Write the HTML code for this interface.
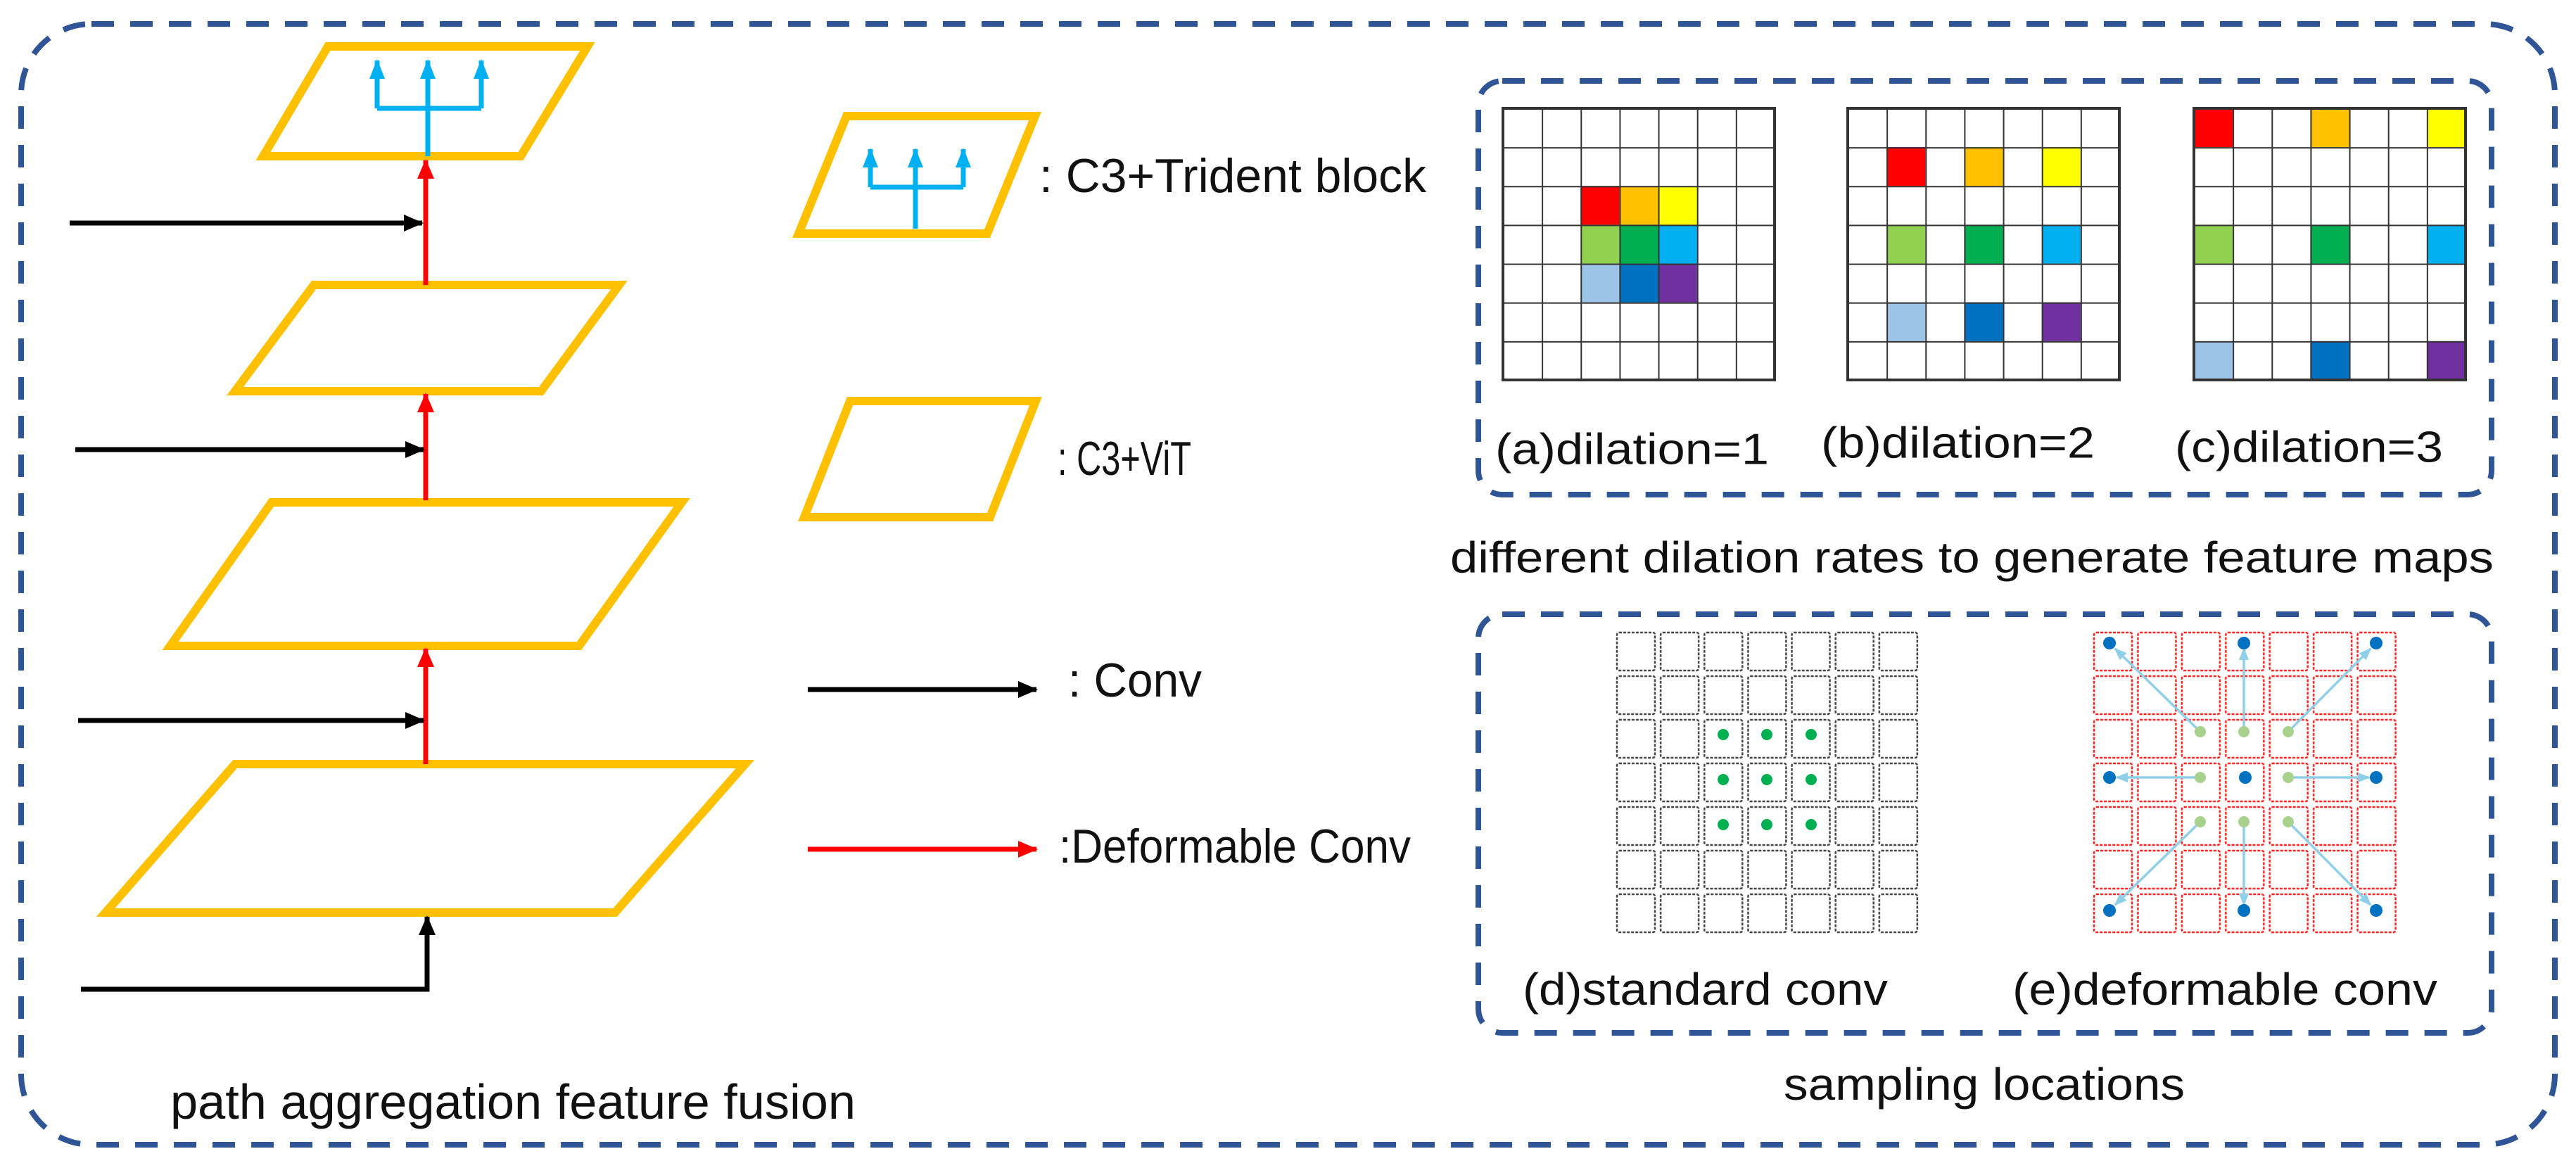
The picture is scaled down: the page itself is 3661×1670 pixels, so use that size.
<!DOCTYPE html>
<html><head><meta charset="utf-8"><style>
html,body{margin:0;padding:0;background:#fff;}
svg{display:block;}
text{font-family:"Liberation Sans",sans-serif;fill:#111;}
</style></head><body>
<svg width="3661" height="1670" viewBox="0 0 3661 1670" xmlns="http://www.w3.org/2000/svg">
<defs>
<marker id="ab" markerUnits="userSpaceOnUse" markerWidth="30" markerHeight="30" refX="26" refY="15" orient="auto"><path d="M0,3 L28,15 L0,27 Z" fill="#000"/></marker>
<marker id="ar" markerUnits="userSpaceOnUse" markerWidth="30" markerHeight="30" refX="26" refY="15" orient="auto"><path d="M0,3 L28,15 L0,27 Z" fill="#f00"/></marker>
<marker id="ac" markerUnits="userSpaceOnUse" markerWidth="30" markerHeight="30" refX="26" refY="15" orient="auto"><path d="M0,4 L28,15 L0,26 Z" fill="#00B0F0"/></marker>
<marker id="al" markerUnits="userSpaceOnUse" markerWidth="20" markerHeight="20" refX="16" refY="10" orient="auto"><path d="M0,3 L18,10 L0,17 Z" fill="#8FCFE8"/></marker>
<pattern id="g1" patternUnits="userSpaceOnUse" x="0" y="0" width="55.14" height="55.14"><path d="M0 0H55.14M0 0V55.14" stroke="#333" stroke-width="4" fill="none"/></pattern>
<pattern id="gd" patternUnits="userSpaceOnUse" x="2294" y="895" width="62.14" height="62" ><rect x="4" y="4" width="54" height="54" rx="3" fill="none" stroke="#444" stroke-width="2.5" stroke-dasharray="4 2"/></pattern>
<pattern id="ge" patternUnits="userSpaceOnUse" x="2972" y="895" width="62.43" height="62" ><rect x="4" y="4" width="54" height="54" rx="3" fill="none" stroke="#f22" stroke-width="2.5" stroke-dasharray="4 2"/></pattern>
</defs>

<rect x="30" y="34" width="3601" height="1593" rx="100" fill="none" stroke="#2F5597" stroke-width="8" stroke-dasharray="32 23"/>

<g fill="none" stroke="#FFC000" stroke-width="12" stroke-linejoin="miter">
<polygon points="466,66 835,66 740,222 374,222"/>
<polygon points="446,405 880,405 769,556 334,556"/>
<polygon points="386,714 969,714 823,918 242,918"/>
<polygon points="334,1086 1059,1086 874,1297 150,1297"/>
<polygon points="1203,165 1471,165 1403,332 1135,332"/>
<polygon points="1208,570 1472,570 1407,735 1143,735"/>
</g>

<g stroke="#00B0F0" stroke-width="7" fill="none">
<path d="M608,222 V154 M536,154 H684 M536,154 V88 M684,154 V88 M608,154 V88" />
<path d="M536,120 V86" marker-end="url(#ac)"/>
<path d="M608,120 V86" marker-end="url(#ac)"/>
<path d="M684,120 V86" marker-end="url(#ac)"/>
</g>
<g stroke="#00B0F0" stroke-width="7" fill="none">
<path d="M1301,325 V266 M1237,266 H1369 M1237,266 V216 M1369,266 V216 M1301,266 V216"/>
<path d="M1237,245 V212" marker-end="url(#ac)"/>
<path d="M1301,245 V212" marker-end="url(#ac)"/>
<path d="M1369,245 V212" marker-end="url(#ac)"/>
</g>

<g stroke="#f00" stroke-width="7" fill="none">
<path d="M605,405 V228" marker-end="url(#ar)"/>
<path d="M605,711 V560" marker-end="url(#ar)"/>
<path d="M605,1086 V922" marker-end="url(#ar)"/>
</g>
<g stroke="#000" stroke-width="7" fill="none">
<path d="M99,317 H600" marker-end="url(#ab)"/>
<path d="M107,639 H602" marker-end="url(#ab)"/>
<path d="M111,1024 H602" marker-end="url(#ab)"/>
<path d="M115,1406 H607 V1303" marker-end="url(#ab)"/>
<path d="M1148,980 H1473" marker-end="url(#ab)"/>
</g>
<path d="M1148,1207 H1473" stroke="#f00" stroke-width="7" fill="none" marker-end="url(#ar)"/>

<text x="1477" y="250" font-size="68" dominant-baseline="central" textLength="550" lengthAdjust="spacingAndGlyphs">: C3+Trident block</text>
<text x="1503" y="652" font-size="68" dominant-baseline="central" textLength="190" lengthAdjust="spacingAndGlyphs">: C3+ViT</text>
<text x="1518" y="967" font-size="68" dominant-baseline="central" textLength="190" lengthAdjust="spacingAndGlyphs">: Conv</text>
<text x="1505" y="1203" font-size="68" dominant-baseline="central" textLength="500" lengthAdjust="spacingAndGlyphs">:Deformable Conv</text>
<text x="242" y="1566" font-size="70" dominant-baseline="central" textLength="974" lengthAdjust="spacingAndGlyphs">path aggregation feature fusion</text>

<rect x="2101" y="115" width="1440" height="588" rx="34" fill="none" stroke="#2F5597" stroke-width="8" stroke-dasharray="32 23"/>

<g transform="translate(2136,154)">
<rect x="110.3" y="110.3" width="55.14" height="55.14" fill="#FF0000"/>
<rect x="165.4" y="110.3" width="55.14" height="55.14" fill="#FFC000"/>
<rect x="220.6" y="110.3" width="55.14" height="55.14" fill="#FFFF00"/>
<rect x="110.3" y="165.4" width="55.14" height="55.14" fill="#92D050"/>
<rect x="165.4" y="165.4" width="55.14" height="55.14" fill="#00B050"/>
<rect x="220.6" y="165.4" width="55.14" height="55.14" fill="#00B0F0"/>
<rect x="110.3" y="220.6" width="55.14" height="55.14" fill="#9DC3E6"/>
<rect x="165.4" y="220.6" width="55.14" height="55.14" fill="#0070C0"/>
<rect x="220.6" y="220.6" width="55.14" height="55.14" fill="#7030A0"/>
<rect x="0" y="0" width="386" height="386" fill="url(#g1)"/>
<rect x="0" y="0" width="386" height="386" fill="none" stroke="#333" stroke-width="4"/>
</g>
<g transform="translate(2626,154)">
<rect x="55.14" y="55.14" width="55.14" height="55.14" fill="#FF0000"/>
<rect x="165.4" y="55.14" width="55.14" height="55.14" fill="#FFC000"/>
<rect x="275.7" y="55.14" width="55.14" height="55.14" fill="#FFFF00"/>
<rect x="55.14" y="165.4" width="55.14" height="55.14" fill="#92D050"/>
<rect x="165.4" y="165.4" width="55.14" height="55.14" fill="#00B050"/>
<rect x="275.7" y="165.4" width="55.14" height="55.14" fill="#00B0F0"/>
<rect x="55.14" y="275.7" width="55.14" height="55.14" fill="#9DC3E6"/>
<rect x="165.4" y="275.7" width="55.14" height="55.14" fill="#0070C0"/>
<rect x="275.7" y="275.7" width="55.14" height="55.14" fill="#7030A0"/>
<rect x="0" y="0" width="386" height="386" fill="url(#g1)"/>
<rect x="0" y="0" width="386" height="386" fill="none" stroke="#333" stroke-width="4"/>
</g>
<g transform="translate(3118,154)">
<rect x="0" y="0" width="55.14" height="55.14" fill="#FF0000"/>
<rect x="165.4" y="0" width="55.14" height="55.14" fill="#FFC000"/>
<rect x="330.9" y="0" width="55.14" height="55.14" fill="#FFFF00"/>
<rect x="0" y="165.4" width="55.14" height="55.14" fill="#92D050"/>
<rect x="165.4" y="165.4" width="55.14" height="55.14" fill="#00B050"/>
<rect x="330.9" y="165.4" width="55.14" height="55.14" fill="#00B0F0"/>
<rect x="0" y="330.9" width="55.14" height="55.14" fill="#9DC3E6"/>
<rect x="165.4" y="330.9" width="55.14" height="55.14" fill="#0070C0"/>
<rect x="330.9" y="330.9" width="55.14" height="55.14" fill="#7030A0"/>
<rect x="0" y="0" width="386" height="386" fill="url(#g1)"/>
<rect x="0" y="0" width="386" height="386" fill="none" stroke="#333" stroke-width="4"/>
</g>

<text x="2125" y="639" font-size="62" dominant-baseline="central" textLength="389" lengthAdjust="spacingAndGlyphs">(a)dilation=1</text>
<text x="2588" y="630" font-size="62" dominant-baseline="central" textLength="389" lengthAdjust="spacingAndGlyphs">(b)dilation=2</text>
<text x="3091" y="636" font-size="62" dominant-baseline="central" textLength="381" lengthAdjust="spacingAndGlyphs">(c)dilation=3</text>
<text x="2061" y="793" font-size="62" dominant-baseline="central" textLength="1483" lengthAdjust="spacingAndGlyphs">different dilation rates to generate feature maps</text>

<rect x="2101" y="873" width="1440" height="595" rx="34" fill="none" stroke="#2F5597" stroke-width="8" stroke-dasharray="32 23"/>

<rect x="2294" y="895" width="435" height="434" fill="url(#gd)"/>
<rect x="2972" y="895" width="437" height="434" fill="url(#ge)"/>

<g fill="#00B050">
<circle cx="2449" cy="1044" r="8"/><circle cx="2511" cy="1044" r="8"/><circle cx="2574" cy="1044" r="8"/>
<circle cx="2449" cy="1108" r="8"/><circle cx="2511" cy="1108" r="8"/><circle cx="2574" cy="1108" r="8"/>
<circle cx="2449" cy="1172" r="8"/><circle cx="2511" cy="1172" r="8"/><circle cx="2574" cy="1172" r="8"/>
</g>

<g stroke="#8FCFE8" stroke-width="3.5" fill="none">
<path d="M3127,1040 L3006,922" marker-end="url(#al)"/>
<path d="M3189,1040 L3189,922" marker-end="url(#al)"/>
<path d="M3252,1040 L3369,922" marker-end="url(#al)"/>
<path d="M3127,1105 L3008,1105" marker-end="url(#al)"/>
<path d="M3252,1105 L3367,1105" marker-end="url(#al)"/>
<path d="M3127,1168 L3006,1286" marker-end="url(#al)"/>
<path d="M3189,1168 L3189,1286" marker-end="url(#al)"/>
<path d="M3252,1168 L3369,1286" marker-end="url(#al)"/>
</g>
<g fill="#A9D18E">
<circle cx="3127" cy="1040" r="8"/><circle cx="3189" cy="1040" r="8"/><circle cx="3252" cy="1040" r="8"/>
<circle cx="3127" cy="1105" r="8"/><circle cx="3252" cy="1105" r="8"/>
<circle cx="3127" cy="1168" r="8"/><circle cx="3189" cy="1168" r="8"/><circle cx="3252" cy="1168" r="8"/>
</g>
<g fill="#0070C0">
<circle cx="2998" cy="914" r="9"/><circle cx="3189" cy="914" r="9"/><circle cx="3377" cy="914" r="9"/>
<circle cx="2998" cy="1105" r="9"/><circle cx="3191" cy="1105" r="9"/><circle cx="3377" cy="1105" r="9"/>
<circle cx="2998" cy="1294" r="9"/><circle cx="3189" cy="1294" r="9"/><circle cx="3377" cy="1294" r="9"/>
</g>

<text x="2164" y="1406" font-size="64" dominant-baseline="central" textLength="519" lengthAdjust="spacingAndGlyphs">(d)standard conv</text>
<text x="2860" y="1406" font-size="64" dominant-baseline="central" textLength="604" lengthAdjust="spacingAndGlyphs">(e)deformable conv</text>
<text x="2535" y="1541" font-size="64" dominant-baseline="central" textLength="570" lengthAdjust="spacingAndGlyphs">sampling locations</text>
</svg>
</body></html>
